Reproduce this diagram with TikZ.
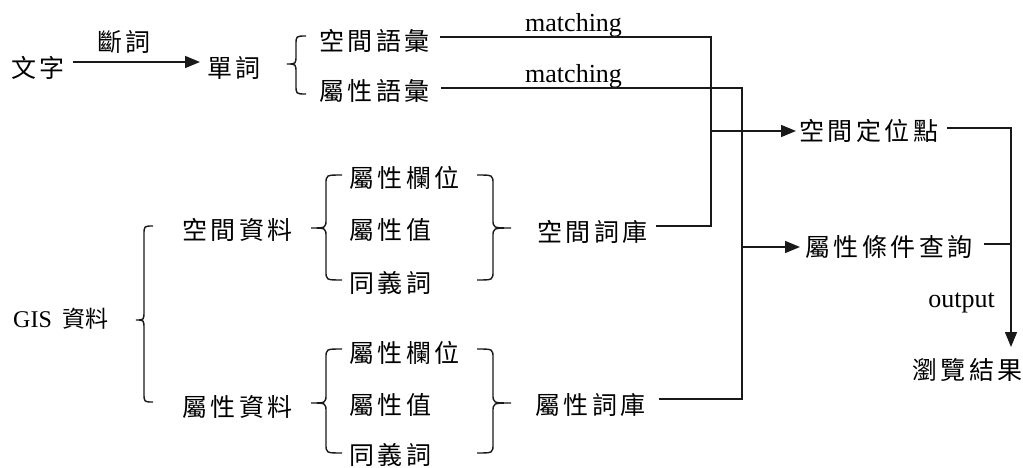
\documentclass[tikz,border=0pt]{standalone}
\usepackage{fontspec}
\setmainfont{Liberation Serif}
\newfontfamily\cjk{Noto Sans CJK TC}[LetterSpace=14]
\newfontfamily\cjkn{Noto Sans CJK TC}
\usetikzlibrary{calc,arrows.meta}
\tikzset{
  zh/.style={inner sep=0pt, anchor=west, font=\cjk\fontsize{25pt}{25pt}\selectfont, text height=21pt, text depth=2pt},
  en/.style={inner sep=0pt, font=\fontsize{26pt}{26pt}\selectfont},
  ln/.style={line width=1.5pt, draw=black!90},
  arr/.style={ln, -{Triangle[length=15pt,width=12pt]}},
  br/.style={line width=1.4pt, draw=black!90},
}
% left brace: stem x, top y, tip y, bottom y, hook width, tip width
\newcommand\LBr[6]{\draw[br] (#1+#5,#2) .. controls (#1,#2) .. (#1,#2+9) -- (#1,#3-9) .. controls (#1,#3) .. (#1-#6,#3) .. controls (#1,#3) .. (#1,#3+9) -- (#1,#4-9) .. controls (#1,#4) .. (#1+#5,#4);}
% right brace
\newcommand\RBr[6]{\draw[br] (#1-#5,#2) .. controls (#1,#2) .. (#1,#2+9) -- (#1,#3-9) .. controls (#1,#3) .. (#1+#6,#3) .. controls (#1,#3) .. (#1,#3+9) -- (#1,#4-9) .. controls (#1,#4) .. (#1-#5,#4);}
\begin{document}
\begin{tikzpicture}[x=1pt,y=-1pt]
\useasboundingbox (0,0) rectangle (1023,468);
% texts
\node[zh] (wz) at (11,68) {文字};
\node[zh, anchor=center] (dc) at (124,42) {斷詞};
\node[zh] (dcw) at (207,68) {單詞};
\node[zh] (kj) at (319,41) {空間語彙};
\node[zh] (sx) at (319,91) {屬性語彙};
\node[en, anchor=base west] (m1) at (525,32) {matching};
\node[en, anchor=base west] (m2) at (525,83) {matching};
\node[zh] (kd) at (799,131) {空間定位點};
\node[zh] (sq) at (805,247) {屬性條件查詢};
\node[en, anchor=base east] (op) at (995,307) {output};
\node[zh, anchor=east] (ll) at (1023,370) {瀏覽結果};
\node[inner sep=0pt, anchor=base west] (gis) at (13,327) {\fontsize{24pt}{24pt}\selectfont GIS\hspace{11pt}{\cjkn\fontsize{23pt}{23pt}\selectfont 資料}};
\node[zh] (kz) at (182,230) {空間資料};
\node[zh] (sz) at (182,407) {屬性資料};
\node[zh] (a1) at (349,178) {屬性欄位};
\node[zh] (a2) at (349,230) {屬性值};
\node[zh] (a3) at (349,283) {同義詞};
\node[zh] (b1) at (349,353) {屬性欄位};
\node[zh] (b2) at (349,405) {屬性值};
\node[zh] (b3) at (349,455) {同義詞};
\node[zh] (kc) at (537,232) {空間詞庫};
\node[zh] (sc) at (535,405) {屬性詞庫};
% junctions
\coordinate (c1m) at (711,131);
\coordinate (c1b) at (711,226);
\coordinate (c2m) at (742,247);
\coordinate (c2b) at (742,399);
\coordinate (c3m) at (1011,244);
\coordinate (c3b) at (1011,347);
% braces
\LBr{296}{36}{64}{94}{10}{9}
\LBr{144}{226}{320}{402}{9}{8}
\LBr{326}{175}{228}{280}{16}{15}
\RBr{493}{175}{228}{280}{16}{18}
\LBr{326}{349}{403}{453}{16}{15}
\RBr{493}{349}{403}{453}{16}{18}
% connectors
\draw[arr] ($(wz.east)+(8,-6)$) -- ($(dcw.west)+(-7,-6)$);
\draw[ln] (kj.east) ++(10,-4) -| (c1b) -- ($(kc.east)+(8,-6)$);
\draw[ln] (sx.east) ++(11,-3) -| (c2b) -- ($(sc.east)+(13,-6)$);
\draw[arr] (c1m) -- ($(kd.west)+(-3,0)$);
\draw[arr] (c2m) -- ($(sq.west)+(-5,0)$);
\draw[arr] (kd.east) ++(9,-3) -| (c3b);
\draw[ln] (sq.east) ++(11,-3) -- (c3m);
\end{tikzpicture}
\end{document}
